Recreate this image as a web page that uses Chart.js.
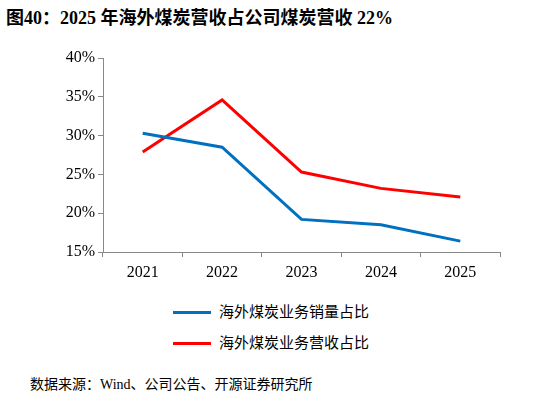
<!DOCTYPE html>
<html><head><meta charset="utf-8">
<script src="https://cdn.jsdelivr.net/npm/chart.js"></script>
<style>
body{margin:0;width:546px;height:405px;background:#fff;position:relative;overflow:hidden;font-family:"Liberation Serif","Noto Sans CJK SC",serif;}
#t{position:absolute;left:6px;top:3px;font-size:18px;font-weight:bold;color:#000;font-family:"Liberation Serif","Noto Sans CJK SC",serif;}
#c{position:absolute;left:0;top:0;}
.lg{position:absolute;left:173px;font-size:15px;color:#000;font-family:"Noto Sans CJK SC",serif;}
.lg span{display:inline-block;width:38px;height:3px;vertical-align:middle;margin-right:8px;}
#s{position:absolute;left:30px;top:373px;font-size:14px;font-family:"Liberation Serif","Noto Sans CJK SC",serif;}
</style></head><body>
<div id="t">图40：2025 年海外煤炭营收占公司煤炭营收 22%</div>
<canvas id="c" width="546" height="290"></canvas>
<div class="lg" style="top:300px"><span style="background:#0070c0"></span>海外煤炭业务销量占比</div>
<div class="lg" style="top:331px"><span style="background:#ff0000"></span>海外煤炭业务营收占比</div>
<div id="s">数据来源：Wind、公司公告、开源证券研究所</div>
<script>
const categories=["2021","2022","2023","2024","2025"];
const salesShare=[30.3,28.5,19.2,18.5,16.4];
const revenueShare=[27.9,34.6,25.3,23.2,22.1];
const yTicks=[15,20,25,30,35,40];
new Chart(document.getElementById('c'),{type:'line',
data:{labels:categories,datasets:[
{label:'海外煤炭业务销量占比',data:salesShare,borderColor:'#0070c0',borderWidth:3,pointRadius:0,tension:0},
{label:'海外煤炭业务营收占比',data:revenueShare,borderColor:'#ff0000',borderWidth:3,pointRadius:0,tension:0}]},
options:{responsive:false,animation:false,layout:{padding:{top:58,right:46,left:0,bottom:0}},
plugins:{legend:{display:false},tooltip:{enabled:false}},
scales:{
x:{offset:true,afterFit:s=>{s.height=38},grid:{drawOnChartArea:false,offset:true,color:'#888',tickLength:5},border:{color:'#888'},
ticks:{color:'#000',padding:6,font:{family:'Liberation Serif',size:16}}},
y:{min:15,max:40,afterFit:s=>{s.width=103},afterBuildTicks:s=>{s.ticks=yTicks.map(v=>({value:v}))},
grid:{drawOnChartArea:false,color:'#888',tickLength:5},border:{color:'#888'},
ticks:{color:'#000',font:{family:'Liberation Serif',size:16},callback:v=>v+'%'}}}}});
</script></body></html>
